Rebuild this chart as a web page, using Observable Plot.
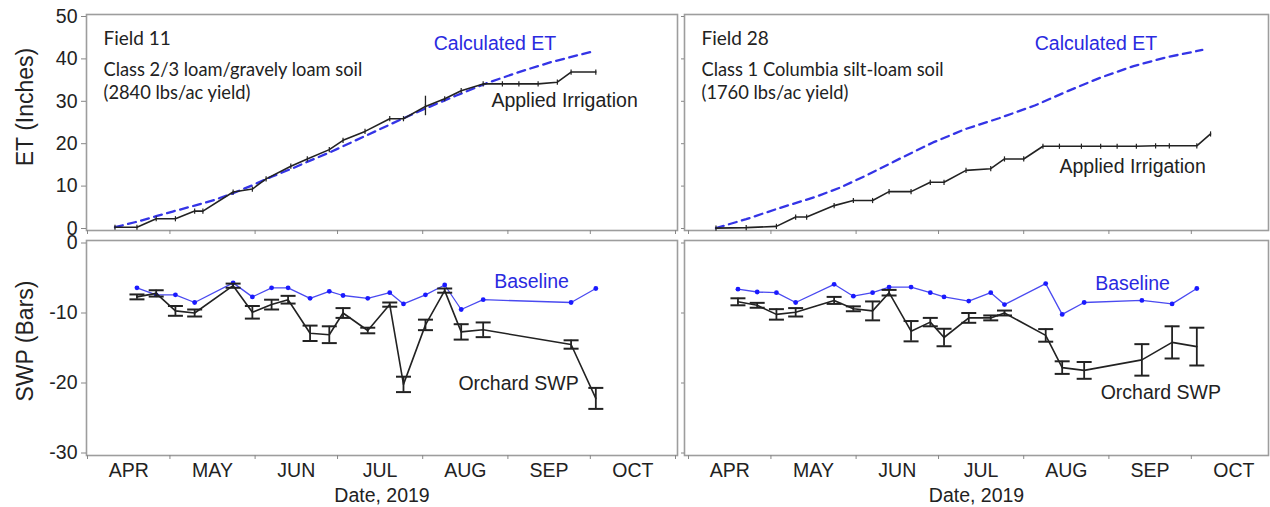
<!DOCTYPE html>
<html><head><meta charset="utf-8">
<script src="https://cdn.jsdelivr.net/npm/d3@7"></script>
<script src="https://cdn.jsdelivr.net/npm/@observablehq/plot@0.6"></script>
<style>
body{margin:0;background:#fff;}
#wrap{position:relative;width:1270px;height:507px;overflow:hidden;background:#fff;font-family:'Liberation Sans',Arial,sans-serif;}
.p{position:absolute;}
.yt{position:absolute;font-size:23px;color:#222;white-space:nowrap;transform:translate(-50%,-50%) rotate(-90deg);}
</style></head><body><div id="wrap"></div>
<script>
// ---------- axis data ----------
const monthNames = ["APR","MAY","JUN","JUL","AUG","SEP","OCT"];
const monthStarts = ["2019-04-01","2019-05-01","2019-06-01","2019-07-01","2019-08-01","2019-09-01","2019-10-01","2019-11-01"];
const etTicks = [0,10,20,30,40,50];
const swpTicks = [0,-10,-20,-30];

// ---------- Field 11 ----------
const f11AppliedDates = ["2019-04-11","2019-04-19","2019-04-26","2019-05-03","2019-05-10","2019-05-13","2019-05-24","2019-05-31","2019-06-05","2019-06-14","2019-06-20","2019-06-28","2019-07-03","2019-07-11","2019-07-20","2019-07-25","2019-08-02","2019-08-09","2019-08-15","2019-08-23","2019-08-30","2019-09-05","2019-09-12","2019-09-19","2019-09-24","2019-10-03"];
const f11AppliedIn = [0.3,0.3,2.3,2.3,4.1,4.1,8.6,9.3,11.7,14.7,16.4,18.6,20.8,22.9,25.9,25.9,28.8,30.6,32.5,34.1,34.1,34.1,34.1,34.5,36.9,36.9];
const f11AppliedBarDate = ["2019-08-02"];
const f11AppliedBarLo = [26.6];
const f11AppliedBarHi = [31.2];
const f11EtDates = ["2019-04-11","2019-04-19","2019-04-26","2019-05-02","2019-05-10","2019-05-17","2019-05-24","2019-05-31","2019-06-07","2019-06-15","2019-06-21","2019-06-28","2019-07-07","2019-07-16","2019-07-25","2019-08-02","2019-08-13","2019-08-24","2019-09-05","2019-09-17","2019-10-01"];
const f11EtIn = [0.3,1.6,2.9,4.0,5.4,6.7,8.3,10.2,12.2,14.3,16.0,17.9,20.6,23.3,26.0,28.3,31.3,34.2,36.9,39.3,41.6];
const f11SwpDates = ["2019-04-19","2019-04-26","2019-05-03","2019-05-10","2019-05-24","2019-05-31","2019-06-07","2019-06-13","2019-06-21","2019-06-28","2019-07-03","2019-07-12","2019-07-20","2019-07-25","2019-08-02","2019-08-09","2019-08-15","2019-08-23","2019-09-24","2019-10-03"];
const f11Orchard = [-7.7,-7.2,-9.7,-10.0,-6.1,-9.9,-8.8,-8.1,-12.9,-13.1,-10.0,-12.5,-8.8,-20.2,-11.7,-6.8,-12.7,-12.4,-14.5,-22.2];
const f11OrchardErr = [0.35,0.45,0.7,0.5,0.3,0.9,0.7,0.55,1.1,1.2,0.7,0.4,0.3,1.1,0.75,0.3,1.1,1.05,0.6,1.5];
const f11Baseline = [-6.4,-7.4,-7.4,-8.5,-5.7,-7.7,-6.4,-6.4,-7.9,-6.9,-7.5,-7.9,-7.1,-8.7,-7.4,-6.0,-9.5,-8.1,-8.5,-6.5];

// ---------- Field 28 ----------
const f28AppliedDates = ["2019-04-11","2019-04-22","2019-05-03","2019-05-10","2019-05-14","2019-05-24","2019-05-31","2019-06-07","2019-06-13","2019-06-21","2019-06-28","2019-07-03","2019-07-11","2019-07-20","2019-07-25","2019-08-01","2019-08-08","2019-08-14","2019-08-22","2019-08-29","2019-09-04","2019-09-11","2019-09-18","2019-09-23","2019-10-03","2019-10-08"];
const f28AppliedIn = [0.1,0.2,0.5,2.7,2.7,5.4,6.6,6.6,8.7,8.7,10.9,10.9,13.7,14.1,16.4,16.4,19.4,19.4,19.4,19.4,19.4,19.4,19.5,19.5,19.5,22.3];
const f28EtDates = ["2019-04-11","2019-04-22","2019-05-04","2019-05-17","2019-05-26","2019-06-05","2019-06-17","2019-06-29","2019-07-11","2019-07-23","2019-08-05","2019-08-17","2019-08-29","2019-09-10","2019-09-22","2019-10-05"];
const f28EtIn = [0.1,2.2,4.8,7.4,9.6,12.6,16.5,20.3,23.5,26.0,29.0,32.4,35.6,38.3,40.4,42.1];
const f28SwpDates = ["2019-04-19","2019-04-26","2019-05-03","2019-05-10","2019-05-24","2019-05-31","2019-06-07","2019-06-13","2019-06-21","2019-06-28","2019-07-03","2019-07-12","2019-07-20","2019-07-25","2019-08-09","2019-08-15","2019-08-23","2019-09-13","2019-09-24","2019-10-03"];
const f28Orchard = [-8.4,-8.9,-10.2,-9.9,-8.2,-9.4,-9.7,-7.1,-12.6,-11.3,-13.5,-10.7,-10.7,-10.0,-13.2,-17.8,-18.2,-16.7,-14.2,-14.8];
const f28OrchardErr = [0.5,0.35,0.75,0.6,0.5,0.35,1.35,0.4,1.45,0.6,1.25,0.7,0.35,0.35,0.9,0.9,1.2,2.25,2.3,2.7];
const f28Baseline = [-6.6,-7.0,-7.1,-8.5,-5.9,-7.6,-7.1,-6.3,-6.3,-7.1,-7.7,-8.3,-7.1,-8.8,-5.8,-10.2,-8.5,-8.2,-8.7,-6.5];

// ---------- text ----------
const fieldNames = ["Field 11","Field 28"];
const soilTexts = ["Class 2/3 loam/gravely loam soil","Class 1 Columbia silt-loam soil"];
const yieldTexts = ["(2840 lbs/ac yield)","(1760 lbs/ac yield)"];
const etLabel = "Calculated ET", appliedLabel = "Applied Irrigation", baseLabel = "Baseline", orchardLabel = "Orchard SWP";
const etLabelAt = [["2019-08-05",43.6],["2019-08-05",43.6]];
const appliedLabelAt = [["2019-08-26",30.2],["2019-08-14",14.6]];
const baseLabelAt = [["2019-08-27",-5.6],["2019-08-27",-5.8]];
const orchardLabelAt = [["2019-08-14",-20.1],["2019-08-29",-21.4]];
const dateTitle = "Date, 2019";
const etTitle = "ET (Inches)", swpTitle = "SWP (Bars)";

// ---------- build ----------
const FONT = "'Liberation Sans', Arial, sans-serif";
const CAL = "Lato, 'Open Sans', sans-serif";
const D = s => new Date(s + "T00:00:00Z");
const starts = monthStarts.map(D);
const mids = starts.slice(0,-1).map((s,i)=> new Date((s.getTime()+starts[i+1].getTime())/2));
const vbar = {draw(ctx,size){const h=Math.sqrt(size/Math.PI);ctx.moveTo(0,-h);ctx.lineTo(0,h);}};
const hbar = {draw(ctx,size){const h=Math.sqrt(size/Math.PI);ctx.moveTo(-h,0);ctx.lineTo(h,0);}};
const BLUE = "#3434e6", BLACK = "#222";
const wrap = document.getElementById("wrap");

function place(svg, left, top){ svg.classList.add("p"); svg.style.left = left+"px"; svg.style.top = top+"px"; wrap.appendChild(svg); }

function common(o){
  return {
    width:o.width, height:o.height, marginLeft:o.ml, marginRight:o.mr, marginTop:o.mt, marginBottom:o.mb,
    x:{type:"utc", domain:[starts[0], starts[starts.length-1]], range:o.xRange},
    y:{domain:o.yDomain, range:o.yRange},
    style:{fontFamily:FONT, background:"transparent", overflow:"visible", color:"#222"}
  };
}

function etPanel(i, o){
  const applied = (i===0?f11AppliedDates:f28AppliedDates).map((d,k)=>({date:D(d), v:(i===0?f11AppliedIn:f28AppliedIn)[k]}));
  const et = (i===0?f11EtDates:f28EtDates).map((d,k)=>({date:D(d), v:(i===0?f11EtIn:f28EtIn)[k]}));
  const bars = i===0 ? f11AppliedBarDate.map((d,k)=>({date:D(d), lo:f11AppliedBarLo[k], hi:f11AppliedBarHi[k]})) : [];
  const marks = [
    Plot.frame({stroke:"#9d9d9d", strokeWidth:1.6}),
    Plot.axisY({ticks:etTicks, tickSize: o.showY?5:3, tickPadding:4, fontSize:19.5, stroke:"#888", fill:o.showY?"#222":"none", tickFormat:d=>String(d), label:null}),
    Plot.axisX({ticks:starts, tickSize:4, stroke:"#888", fill:"none", label:null}),
    Plot.line(et, {x:"date", y:"v", stroke:BLUE, strokeWidth:2.3, strokeDasharray:"8,5.5"}),
    Plot.line(applied, {x:"date", y:"v", stroke:BLACK, strokeWidth:1.6}),
    Plot.dot(applied, {x:"date", y:"v", symbol:vbar, r:2.6, stroke:BLACK, strokeWidth:1.2, fill:"none"}),
    Plot.ruleX(bars, {x:"date", y1:"lo", y2:"hi", stroke:BLACK, strokeWidth:1.3}),
    Plot.text([fieldNames[i]], {frameAnchor:"top-left", dx:17, dy:24, lineAnchor:"middle", textAnchor:"start", fontSize:19, fontFamily:CAL, fill:"#222"}),
    Plot.text([soilTexts[i]], {frameAnchor:"top-left", dx:17, dy:56, lineAnchor:"middle", textAnchor:"start", fontSize:18.3, fontFamily:CAL, fill:"#222"}),
    Plot.text([yieldTexts[i]], {frameAnchor:"top-left", dx:17, dy:79, lineAnchor:"middle", textAnchor:"start", fontSize:18.3, fontFamily:CAL, fill:"#222"}),
    Plot.text([etLabelAt[i]], {x:d=>D(d[0]), y:d=>d[1], text:()=>etLabel, textAnchor:"start", fontSize:19.5, fill:"#2a2ae0"}),
    Plot.text([appliedLabelAt[i]], {x:d=>D(d[0]), y:d=>d[1], text:()=>appliedLabel, textAnchor:"start", fontSize:19.5, fill:"#222"})
  ];
  return Plot.plot({...common(o), marks});
}

function swpPanel(i, o){
  const dates = i===0?f11SwpDates:f28SwpDates;
  const mean = i===0?f11Orchard:f28Orchard, err = i===0?f11OrchardErr:f28OrchardErr, basev = i===0?f11Baseline:f28Baseline;
  const orch = dates.map((d,k)=>({date:D(d), v:mean[k], lo:mean[k]-err[k], hi:mean[k]+err[k]}));
  const base = dates.map((d,k)=>({date:D(d), v:basev[k]}));
  const marks = [
    Plot.frame({stroke:"#9d9d9d", strokeWidth:1.6}),
    Plot.axisY({ticks:swpTicks, tickSize: o.showY?5:3, tickPadding:4, fontSize:19.5, stroke:"#888", fill:o.showY?"#222":"none", tickFormat:d=>String(d), label:null}),
    Plot.axisX({ticks:starts, tickSize:4, stroke:"#888", fill:"none", label:null}),
    Plot.axisX({ticks:mids, tickSize:0, tickPadding:8, fontSize:19.5, fill:"#222", tickFormat:d=>monthNames[d.getUTCMonth()-3], label:null}),
    Plot.line(base, {x:"date", y:"v", stroke:"#4a4af0", strokeWidth:1.3}),
    Plot.dot(base, {x:"date", y:"v", r:2.4, fill:"#1a1aff", stroke:"none"}),
    Plot.ruleX(orch, {x:"date", y1:"lo", y2:"hi", stroke:BLACK, strokeWidth:1.8}),
    Plot.dot(orch, {x:"date", y:"lo", symbol:hbar, r:7.5, stroke:BLACK, strokeWidth:2, fill:"none"}),
    Plot.dot(orch, {x:"date", y:"hi", symbol:hbar, r:7.5, stroke:BLACK, strokeWidth:2, fill:"none"}),
    Plot.line(orch, {x:"date", y:"v", stroke:BLACK, strokeWidth:1.6}),
    Plot.text([baseLabelAt[i]], {x:d=>D(d[0]), y:d=>d[1], text:()=>baseLabel, textAnchor:"start", fontSize:19.5, fill:"#2a2ae0"}),
    Plot.text([orchardLabelAt[i]], {x:d=>D(d[0]), y:d=>d[1], text:()=>orchardLabel, textAnchor:"start", fontSize:19.5, fill:"#222"}),
    Plot.text([dateTitle], {frameAnchor:"bottom", dy:40, lineAnchor:"middle", fontSize:19.5, fill:"#222"})
  ];
  return Plot.plot({...common(o), marks});
}

place(etPanel(0, {width:680, height:236, ml:86, mr:3, mt:14, mb:6, xRange:[87,675], yDomain:[0,50], yRange:[228,16], showY:true}), 0, 0);
place(swpPanel(0, {width:680, height:271, ml:86, mr:3, mt:4, mb:52, xRange:[87,675], yDomain:[-30,0], yRange:[216.5,6.5], showY:true}), 0, 236);
place(etPanel(1, {width:590, height:236, ml:4, mr:2, mt:14, mb:6, xRange:[8,596], yDomain:[0,50], yRange:[228,16], showY:false}), 680, 0);
place(swpPanel(1, {width:590, height:271, ml:4, mr:2, mt:4, mb:52, xRange:[8,596], yDomain:[-30,0], yRange:[216.5,6.5], showY:false}), 680, 236);

for (const [t, y] of [[etTitle,107],[swpTitle,341]]) {
  const d = document.createElement("div"); d.className = "yt"; d.textContent = t;
  d.style.left = "25px"; d.style.top = y+"px"; wrap.appendChild(d);
}
</script>
</body></html>
